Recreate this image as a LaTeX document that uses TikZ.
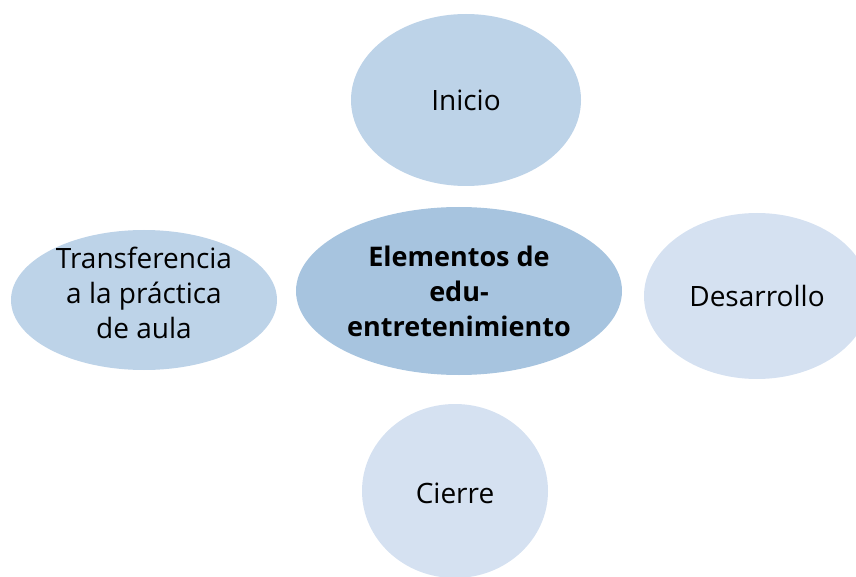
\documentclass[tikz,border=0pt]{standalone}
\usepackage{fontspec}
\setmainfont{Open Sans}
\usetikzlibrary{shapes.geometric}
\definecolor{cmid}{HTML}{A7C4DF}
\definecolor{cone}{HTML}{BDD3E8}
\definecolor{ctwo}{HTML}{D5E1F1}
\tikzset{
  bub/.style={ellipse, inner sep=0pt, align=center, font=\fontsize{28}{35}\selectfont, text=black},
}
\begin{document}
\begin{tikzpicture}[x=1pt,y=-1pt]
\useasboundingbox (0,0) rectangle (856,577);
\clip (0,0) rectangle (856,577);
\fill[cone] (466,100) ellipse [x radius=115, y radius=86];
\node[bub] (inicio) at (466,100) {Inicio};
\fill[cone] (144,300) ellipse [x radius=133, y radius=70];
\node[bub] (transf) at (144,293) {Transferencia\\a la práctica\\de aula};
\fill[ctwo] (757,296) ellipse [x radius=113, y radius=83];
\node[bub] (desa) at (757,296) {Desarrollo};
\fill[ctwo] (455,491) ellipse [x radius=93, y radius=87];
\node[bub] (cierre) at (455,493) {Cierre};
\fill[cmid] (459,291) ellipse [x radius=163, y radius=84];
\node[bub, font=\bfseries\fontsize{27}{35}\selectfont] (centro) at (459,291) {Elementos de\\edu-\\entretenimiento};
\end{tikzpicture}
\end{document}
